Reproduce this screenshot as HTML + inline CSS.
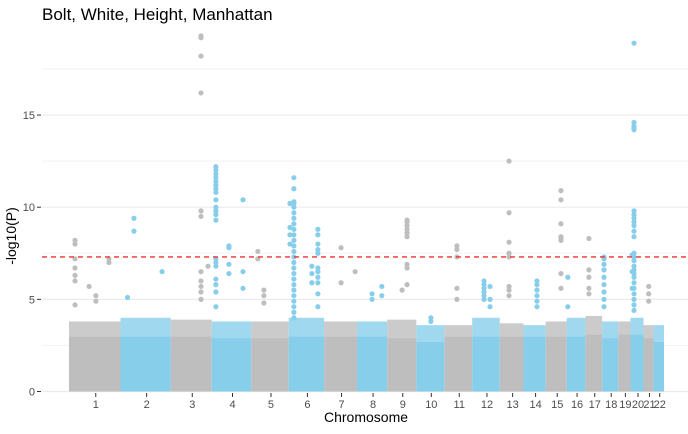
<!DOCTYPE html>
<html><head><meta charset="utf-8"><style>
html,body{margin:0;padding:0;background:#fff;}
svg text{font-family:"Liberation Sans",sans-serif;}
</style></head><body>
<svg id="chart" width="688" height="429" viewBox="0 0 688 429" xmlns="http://www.w3.org/2000/svg">
<text x="42" y="20" font-size="17" fill="#000">Bolt, White, Height, Manhattan</text>
<g id="grid"></g><g id="band"></g><g id="pts"></g><g id="axes"></g>
<text x="366" y="422" font-size="14" text-anchor="middle" fill="#000">Chromosome</text>
<text transform="translate(16,236) rotate(-90)" font-size="14" text-anchor="middle" fill="#000">-log10(P)</text>
</svg>
<script>
const chromosomes=["1","2","3","4","5","6","7","8","9","10","11","12","13","14","15","16","17","18","19","20","21","22"];
const chromLengths=[249,243,198,191,181,171,159,146,141,135,135,133,115,107,102,90,81,78,59,63,48,51];
const bandTop=[3.0,3.0,3.0,2.9,2.9,3.0,3.0,3.0,2.9,2.7,3.0,3.0,3.0,3.0,3.0,3.0,3.1,2.9,3.1,3.1,2.9,2.7];
const bandFringe=[3.8,4.0,3.9,3.8,3.8,4.0,3.8,3.8,3.9,3.6,3.6,4.0,3.7,3.6,3.8,4.0,4.1,3.8,3.8,4.0,3.6,3.6];
const yTicks=[0,5,10,15];
const yMinor=[2.5,7.5,12.5,17.5];
const threshold=7.3;
const peakChr=[1,1,1,1,2,2,2,3,3,4,4,4,5,5,6,6,6,6,7,7,8,8,9,9,10,11,12,12,13,14,15,16,17,18,20,20,21];
const peakPos=[29,193,97,130,65,34,201,146,180,20,83,151,32,61,25,6,141,112,82,150,120,73,96,72,70,61,57,86,45,65,74,5,17,9,17,8,25];
const peakValues=[
[8.2,8.0,7.2,6.7,6.3,6.0,4.7],[7.2,7.0],[5.7],[5.2,4.9],
[9.4,8.7],[5.1],[6.5],
[19.3,19.2,18.2,16.2,9.8,9.5,6.5,6.0,5.7,5.4,5.0],[6.8],
[12.2,12.0,11.8,11.6,11.4,11.2,11.0,10.8,10.4,10.0,9.8,9.6,9.3,7.2,7.0,6.8,6.1,5.8,5.4,4.6],[7.9,7.8,6.9,6.4],[10.4,6.5,5.6],
[7.6,7.2],[5.5,5.2,4.8],
[11.6,11.0,10.3,10.2,10.0,9.7,9.4,9.1,8.8,8.5,8.2,7.9,7.6,7.3,7.0,6.7,6.4,6.1,5.8,5.5,5.2,4.9,4.6,4.3,4.0],[10.2,8.9,8.5,8.0],
[8.8,8.5,8.0,7.7,7.5,6.7,6.5,6.2,5.9,5.3,4.6],[6.8,6.4,5.9],
[7.8,5.9],[6.5],[5.7,5.2],[5.3,5.0],
[9.3,9.2,9.0,8.8,8.6,8.4,6.9,6.7,5.8],[5.5],[4.0,3.8],
[7.9,7.7,7.3,5.6,5.0],
[6.0,5.8,5.6,5.4,5.2,5.0],[5.7,5.0,4.6],
[12.5,9.7,8.1,7.5,7.3,5.7,5.5,5.2],
[6.0,5.8,5.5,5.2,4.9,4.6],
[10.9,10.4,9.1,8.4,8.3,8.2,6.4,5.6],[6.2,4.6],
[8.3,6.6,6.2,5.6,5.3],
[7.3,7.2,6.9,6.6,6.2,5.8,5.4,5.0,4.6],
[18.9,14.6,14.4,14.3,14.2,9.8,9.6,9.4,9.2,9.0,8.7,8.4,7.5,7.3,7.1,6.8,6.6,6.4,6.2,5.9,5.6,5.3,5.0,4.7,4.4],[7.4,6.5,5.6],
[5.7,5.3,4.9]];

const NS="http://www.w3.org/2000/svg";
const X0=69,X1=664,Y0=391.5,YU=18.43;
const starts=[];let cum=0;for(const L of chromLengths){starts.push(cum);cum+=L;}
const total=cum;
function xs(c,pos){return X0+(starts[c]+pos)/total*(X1-X0);}
function ys(v){return Y0-v*YU;}
function mk(tag,attrs,parent){const e=document.createElementNS(NS,tag);for(const k in attrs)e.setAttribute(k,attrs[k]);parent.appendChild(e);return e;}
const colors=["#bebebe","#87ceeb"];
const grid=document.getElementById('grid'),band=document.getElementById('band'),pts=document.getElementById('pts'),axes=document.getElementById('axes');
yMinor.forEach(v=>{const l=mk('line',{x1:42,x2:688,y1:ys(v),y2:ys(v),stroke:'#f2f2f2','stroke-width':1},grid);

});
yTicks.forEach(v=>{const l=mk('line',{x1:42,x2:688,y1:ys(v),y2:ys(v),stroke:'#ebebeb','stroke-width':1.2},grid);


const t=mk('line',{x1:37,x2:41,y1:ys(v),y2:ys(v),stroke:'#333','stroke-width':1},axes);


const tx=mk('text',{x:35,y:ys(v)+4,'font-size':11,'text-anchor':'end',fill:'#4d4d4d'},axes);tx.textContent=v;

});
chromosomes.forEach((c,i)=>{const xa=xs(i,0),xb=xs(i,chromLengths[i]);const col=colors[i%2];
const f=mk('rect',{x:xa,y:ys(bandFringe[i]),width:xb-xa,height:ys(bandTop[i])-ys(bandFringe[i]),fill:col,opacity:0.8},band);


const r=mk('rect',{x:xa,y:ys(bandTop[i]),width:xb-xa,height:Y0-ys(bandTop[i]),fill:col},band);


const xm=(xa+xb)/2+1;
const t=mk('line',{x1:xm,x2:xm,y1:393,y2:397,stroke:'#333','stroke-width':1},axes);


const tx=mk('text',{x:xm,y:408,'font-size':11,'text-anchor':'middle',fill:'#4d4d4d'},axes);tx.textContent=c;

});
peakChr.forEach((c,k)=>{const i=c-1;peakValues[k].forEach(v=>{
const p=mk('circle',{cx:xs(i,peakPos[k]),cy:ys(v),r:2.6,fill:colors[i%2]},pts);

});});
const th=mk('line',{x1:42,x2:688,y1:ys(threshold),y2:ys(threshold),stroke:'#f03030','stroke-width':1.3,'stroke-dasharray':'5,4'},axes);


</script>
</body></html>
